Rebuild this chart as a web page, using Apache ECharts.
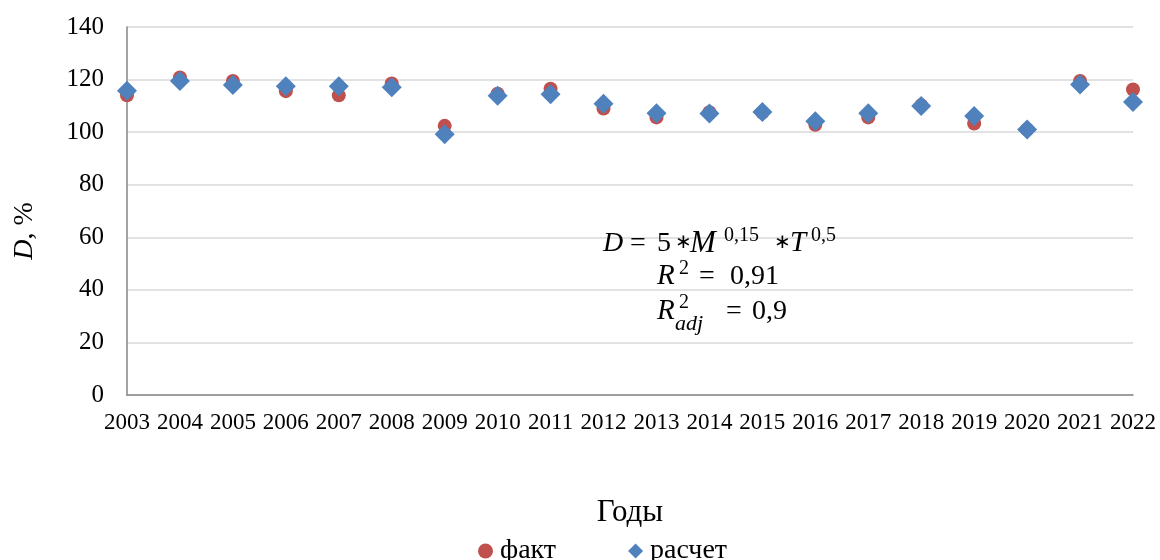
<!DOCTYPE html>
<html><head><meta charset="utf-8">
<script src="https://cdn.jsdelivr.net/npm/echarts@6/dist/echarts.min.js"></script>
<style>html,body{margin:0;padding:0;background:#fff}#c{width:1160px;height:560px}</style>
</head><body><div id="c"></div>
<script>
const years = ['2003','2004','2005','2006','2007','2008','2009','2010','2011','2012','2013','2014','2015','2016','2017','2018','2019','2020','2021','2022'];
const fakt = [114, 120.8, 119.5, 115.6, 114, 118.5, 102.4, 114.6, 116.5, 109, 105.6, 107.6, 107.5, 102.8, 105.6, 110.2, 103.3, 101, 119.5, 116.2];
const raschet = [115.7, 119.5, 117.9, 117.5, 117.5, 117.1, 99.2, 113.8, 114.4, 110.8, 107.2, 107.1, 107.7, 104.1, 107.2, 109.9, 106.1, 101, 118.1, 111.5];
const yTicks = [0, 20, 40, 60, 80, 100, 120, 140];

const chart = echarts.init(document.getElementById('c'));
const serif = 'Liberation Serif';
// text placed by its baseline (bx, by)
function t(bx, by, text, size, italic) {
  return { type: 'text', x: bx, y: by - Math.round(size * 0.78), z: 10, style: {
    text: text, fontFamily: serif, fontSize: size, fontStyle: italic ? 'italic' : 'normal',
    fill: '#000', verticalAlign: 'top', align: 'left' } };
}
chart.setOption({
  animation: false,
  grid: { left: 127, right: 27, top: 27, bottom: 165, containLabel: false },
  legend: {
    top: 532, left: 473, itemGap: 72, itemWidth: 15, itemHeight: 15,
    textStyle: { fontFamily: serif, fontSize: 28, color: '#000', padding: [0, 0, 0, 2] },
    data: [{ name: 'факт', icon: 'circle' }, { name: 'расчет', icon: 'diamond' }]
  },
  xAxis: {
    type: 'category', data: years, boundaryGap: false,
    name: 'Годы', nameLocation: 'middle', nameGap: 102,
    nameTextStyle: { fontFamily: serif, fontSize: 31, color: '#000' },
    axisLine: { lineStyle: { color: '#868686', width: 1.5 } },
    axisTick: { show: false },
    axisLabel: { fontFamily: serif, fontSize: 23, color: '#000', margin: 16, interval: 0 },
    splitLine: { show: false }
  },
  yAxis: {
    type: 'value', min: yTicks[0], max: yTicks[yTicks.length - 1], interval: 20,
    axisLine: { show: true, lineStyle: { color: '#868686', width: 1.5 } },
    axisTick: { show: false },
    axisLabel: { fontFamily: serif, fontSize: 25, color: '#000', margin: 23 },
    splitLine: { lineStyle: { color: '#D9D9D9', width: 1.5 } }
  },
  series: [
    { name: 'факт', type: 'scatter', data: fakt, symbol: 'circle', symbolSize: 14,
      itemStyle: { color: '#C0504D', opacity: 1 }, z: 2 },
    { name: 'расчет', type: 'scatter', data: raschet, symbol: 'diamond', symbolSize: 20,
      itemStyle: { color: '#4F81BD', opacity: 1 }, z: 3 }
  ],
  graphic: [
    { type: 'text', x: 25, y: 231, rotation: Math.PI / 2, z: 10, style: {
      text: '{i|D}{n|, %}', align: 'center', verticalAlign: 'middle',
      rich: {
        i: { fontFamily: serif, fontStyle: 'italic', fontSize: 28, fill: '#000' },
        n: { fontFamily: serif, fontSize: 28, fill: '#000' } } } },
    t(603, 252, 'D', 28, true),
    t(630, 252, '=', 28, false),
    t(657, 252, '5', 28, false),
    t(675, 249, '∗', 20, false),
    t(690, 252, 'M', 31, true),
    t(724, 242, '0,15', 20, false),
    t(774, 249, '∗', 20, false),
    t(790, 252, 'T', 29, true),
    t(811, 242, '0,5', 20, false),
    t(657, 285, 'R', 29, true),
    t(679, 275, '2', 20, false),
    t(699, 285, '=', 28, false),
    t(730, 285, '0,91', 28, false),
    t(657, 320, 'R', 29, true),
    t(679, 309, '2', 20, false),
    t(675, 330, 'adj', 22, true),
    t(726, 320, '=', 28, false),
    t(752, 320, '0,9', 28, false)
  ]
});
</script></body></html>
